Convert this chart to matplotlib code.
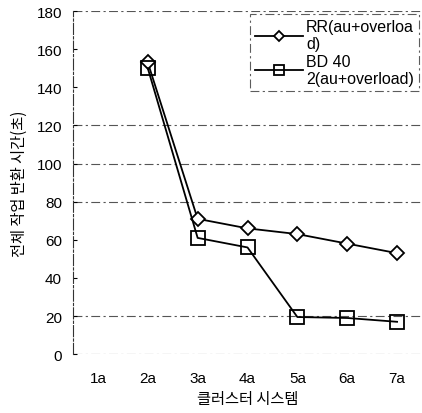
import matplotlib.pyplot as plt

plt.rcParams['font.family'] = ['Liberation Sans', 'Noto Sans CJK KR', 'DejaVu Sans']

# Data
categories = ['1a', '2a', '3a', '4a', '5a', '6a', '7a']
rr_x = [2, 3, 4, 5, 6, 7]
rr_vals = [153, 71, 66, 63, 58, 53]
bd_x = [2, 3, 4, 5, 6, 7]
bd_vals = [150, 61, 56, 19.5, 19, 17]
grid_levels = [0, 20, 80, 100, 120, 180]

fig = plt.figure(figsize=(4.22, 4.14), dpi=100)
ax = fig.add_axes([0.173, 0.142, 0.827, 0.829])

# Dash-dot grid lines
for g in grid_levels:
    ax.axhline(g, color='#555555', lw=0.8, ls=(0, (8, 3, 2, 3)), zorder=1)

ax.plot(rr_x, rr_vals, color='black', lw=1.3, marker='D', markersize=7,
        markerfacecolor='white', markeredgecolor='black', markeredgewidth=1.3,
        label='RR(au+overloa\nd)', zorder=3)
ax.plot(bd_x, bd_vals, color='black', lw=1.3, marker='s', markersize=10,
        markerfacecolor='none', markeredgecolor='black', markeredgewidth=1.3,
        label='BD 40\n2(au+overload)', zorder=3)

ax.set_xlim(0.5, 7.5)
ax.set_ylim(0, 180)
ax.set_xticks(range(1, 8))
ax.set_xticklabels(categories)
ax.set_yticks(range(0, 181, 20))
ax.tick_params(axis='x', length=0, pad=12, labelsize=11)
ax.tick_params(axis='y', length=3, direction='in', labelsize=11, pad=8)

for s in ['top', 'right', 'bottom']:
    ax.spines[s].set_visible(False)
ax.spines['left'].set_linestyle((0, (10, 2, 2, 2)))
ax.spines['left'].set_color('#333333')

ax.set_xlabel('클러스터 시스템', family=['Noto Sans CJK KR'], fontsize=11, labelpad=4)
ax.set_ylabel('전체 작업 반환 시간(초)', family=['Noto Sans CJK KR'], fontsize=11, labelpad=6)

leg = ax.legend(loc='upper right', frameon=True, fontsize=11.5, handlelength=3.0,
                borderaxespad=0.2, fancybox=False, labelspacing=0.15,
                handletextpad=0.2, borderpad=0.3, markerscale=0.7)
leg.get_frame().set_edgecolor('#333333')
leg.get_frame().set_linestyle((0, (8, 3, 2, 3)))
leg.get_frame().set_linewidth(0.8)

fig.savefig('out.png', dpi=100)
